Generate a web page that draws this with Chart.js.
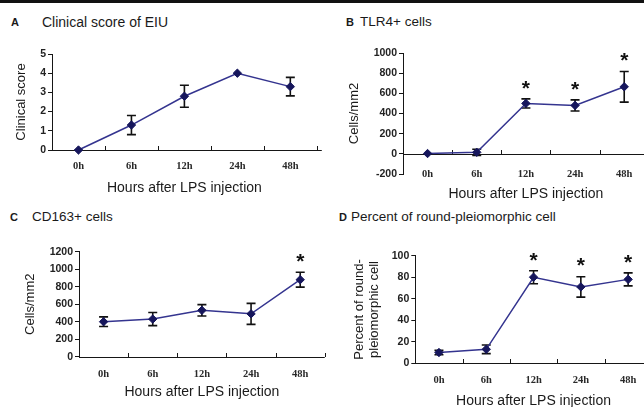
<!DOCTYPE html>
<html><head><meta charset="utf-8">
<script src="https://cdn.jsdelivr.net/npm/chart.js@4.4.1/dist/chart.umd.min.js"></script>
<style>
html,body{margin:0;padding:0;width:644px;height:407px;overflow:hidden;background:#fff;}
#topbar{position:absolute;left:0;top:0;width:644px;height:3px;background:#111;}
canvas{position:absolute;}
.lbl{position:absolute;font-family:"Liberation Sans",Arial,sans-serif;color:#1a1a1a;white-space:nowrap;line-height:16px;}
.let{font-weight:bold;font-size:11px;}
.ttl{font-size:13.5px;}
</style></head><body>
<div id="topbar"></div>
<div class="lbl let" style="left:11px;top:14px">A</div>
<div class="lbl ttl" style="left:42px;top:14px;font-size:14px">Clinical score of EIU</div>
<div class="lbl let" style="left:346px;top:14px">B</div>
<div class="lbl ttl" style="left:360px;top:14px">TLR4+ cells</div>
<div class="lbl let" style="left:10px;top:209px">C</div>
<div class="lbl ttl" style="left:32px;top:209px">CD163+ cells</div>
<div class="lbl let" style="left:339px;top:209px">D</div>
<div class="lbl ttl" style="left:351px;top:209px">Percent of round-pleiomorphic cell</div>

<canvas id="cA" width="322" height="160" style="left:0px;top:40px"></canvas>
<canvas id="cB" width="332" height="165" style="left:322px;top:40px"></canvas>
<canvas id="cC" width="330" height="192" style="left:0px;top:215px"></canvas>
<canvas id="cD" width="335" height="200" style="left:322px;top:215px"></canvas>

<script>
// ---- data ----
const categories = ['0h', '6h', '12h', '24h', '48h'];
const xAxisTitle = 'Hours after LPS injection';

const clinicalMean = [0, 1.3, 2.8, 4.0, 3.3];
const clinicalErr  = [0, 0.5, 0.57, 0, 0.48];
const clinicalSig  = [false, false, false, false, false];

const tlr4Mean = [3, 15, 500, 480, 665];
const tlr4Err  = [0, 30, 45, 55, 152];
const tlr4Sig  = [false, false, true, true, true];

const cd163Mean = [400, 430, 530, 490, 880];
const cd163Err  = [55, 75, 65, 120, 85];
const cd163Sig  = [false, false, false, false, true];

const roundMean = [10, 13, 80, 71, 78];
const roundErr  = [2, 4, 6, 9.5, 6];
const roundSig  = [false, false, true, true, true];

// ---- styles ----
const LINE = '#34348f';
const MARK = '#16165c';
const INK = '#161616';

const decor = {
  id: 'decor',
  beforeDatasetsDraw(chart, args, o) {
    const ctx = chart.ctx, x = chart.scales.x, y = chart.scales.y, ca = chart.chartArea;
    ctx.save();
    const y0 = Math.round(y.getPixelForValue(0));
    ctx.strokeStyle = INK; ctx.lineWidth = 1;
    ctx.beginPath();
    ctx.moveTo(ca.left, y0 + 0.5); ctx.lineTo(ca.right + (o.ext || 0), y0 + 0.5);
    for (let i = 1; i <= categories.length; i++) {
      const px = Math.round(x.getPixelForValue(i - 0.5)) + 0.5;
      ctx.moveTo(px, y0); ctx.lineTo(px, y0 - 4);
    }
    ctx.stroke();
    const meta = chart.getDatasetMeta(0);
    ctx.strokeStyle = '#111'; ctx.lineWidth = 1.6;
    ctx.beginPath();
    o.err.forEach((e, i) => {
      if (!e) return;
      const m = chart.data.datasets[0].data[i];
      const px = meta.data[i].x;
      const t = y.getPixelForValue(m + e), b = y.getPixelForValue(m - e);
      ctx.moveTo(px, t); ctx.lineTo(px, b);
      ctx.moveTo(px - 4.5, t); ctx.lineTo(px + 4.5, t);
      ctx.moveTo(px - 4.5, b); ctx.lineTo(px + 4.5, b);
    });
    ctx.stroke();
    ctx.restore();
  },
  afterDatasetsDraw(chart, args, o) {
    const ctx = chart.ctx, y = chart.scales.y;
    const meta = chart.getDatasetMeta(0);
    ctx.save();
    ctx.fillStyle = '#111';
    ctx.font = 'bold 21px "Liberation Sans", Arial, sans-serif';
    ctx.textAlign = 'center'; ctx.textBaseline = 'middle';
    o.sig.forEach((s, i) => {
      if (!s) return;
      const m = chart.data.datasets[0].data[i];
      const top = y.getPixelForValue(m + (o.err[i] || 0));
      ctx.fillText('*', meta.data[i].x, top - 15 + 5);
    });
    ctx.restore();
  }
};

function panel(id, mean, err, sig, g) {
  return new Chart(document.getElementById(id), {
    type: 'line',
    data: {
      labels: categories,
      datasets: [{
        data: mean,
        borderColor: LINE, borderWidth: 1.5,
        pointStyle: 'rectRot', pointRadius: 4.2,
        pointBackgroundColor: MARK, pointBorderColor: MARK, pointBorderWidth: 1,
        tension: 0, clip: false
      }]
    },
    options: {
      responsive: false, devicePixelRatio: 1, animation: false,
      layout: { padding: { top: g.padTop, right: g.padRight, left: 0, bottom: 0 } },
      plugins: {
        legend: { display: false }, tooltip: { enabled: false },
        decor: { err: err, sig: sig, ext: g.ext || 0 }
      },
      scales: {
        x: {
          offset: true,
          grid: { display: false, drawTicks: false },
          border: { display: false },
          ticks: {
            padding: g.xLblPad, autoSkip: false, maxRotation: 0, mirror: !!g.mirror,
            color: '#2a2a2a',
            font: { family: '"Liberation Serif", "Times New Roman", serif', weight: 'bold', size: 10.5 }
          },
          title: {
            display: true, text: xAxisTitle, color: '#1a1a1a',
            font: { family: '"Liberation Sans", Arial, sans-serif', size: 14 },
            padding: { top: 0, bottom: g.xTitlePad }
          },
          afterFit: s => { s.height = g.xH; }
        },
        y: {
          min: g.min, max: g.max,
          ticks: {
            stepSize: g.step, padding: 2, color: '#222',
            callback: v => String(v),
            font: { family: '"Liberation Sans", Arial, sans-serif', weight: 'bold', size: 10.5 }
          },
          grid: { drawOnChartArea: false, drawTicks: true, tickLength: 4, color: INK, lineWidth: 1 },
          border: { display: true, color: INK, width: 1 },
          title: {
            display: true, text: g.yTitle, color: '#1a1a1a',
            font: { family: '"Liberation Sans", Arial, sans-serif', size: 13, lineHeight: 1.2 },
            padding: { top: g.yTitlePad, bottom: 0 }
          },
          afterFit: s => { s.width = g.yW; }
        }
      }
    },
    plugins: [decor]
  });
}

panel('cA', clinicalMean, clinicalErr, clinicalSig,
  { padTop: 14, padRight: 5, yW: 52, xH: 50, min: 0, max: 5, step: 1,
    yTitle: 'Clinical score', yTitlePad: 13.2, xLblPad: 10, xTitlePad: 3.6, ext: 5 });
panel('cB', tlr4Mean, tlr4Err, tlr4Sig,
  { padTop: 13, padRight: 0, yW: 81, xH: 31, min: -200, max: 1000, step: 200,
    yTitle: 'Cells/mm2', yTitlePad: 24.2, xLblPad: -6.3, mirror: true, xTitlePad: 2.6 });
panel('cC', cd163Mean, cd163Err, cd163Sig,
  { padTop: 36.7, padRight: 1, yW: 79, xH: 50.3, min: 0, max: 1200, step: 200,
    yTitle: 'Cells/mm2', yTitlePad: 22.2, xLblPad: 11.3, xTitlePad: 6.6 });
panel('cD', roundMean, roundErr, roundSig,
  { padTop: 40.7, padRight: 0.5, yW: 93.3, xH: 51.7, min: 0, max: 100, step: 20,
    yTitle: ['Percent of round-', 'pleiomorphic cell'], yTitlePad: 29.2, xLblPad: 10.7, xTitlePad: 5.6 });
</script>
</body></html>
